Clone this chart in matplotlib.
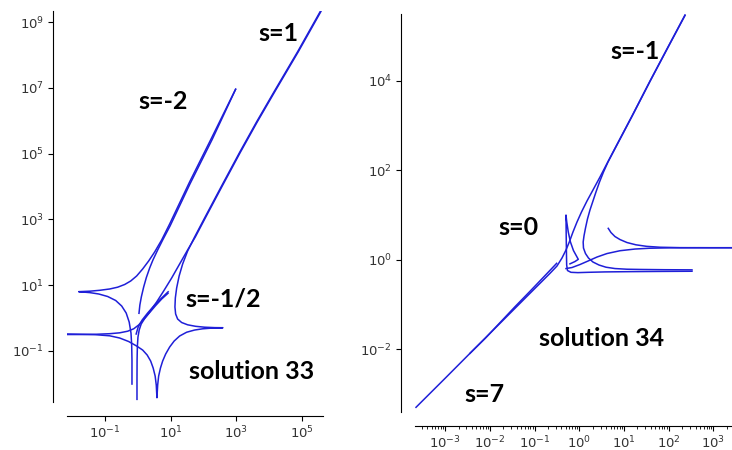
import numpy as np
import matplotlib.pyplot as plt
from matplotlib.ticker import NullLocator, NullFormatter

# all curve points are log10 values
# ---- solution 33 (left panel) ----
s2_cusp_x = [-0.177, -0.177, -0.186, -0.207, -0.262, -0.354, -0.491, -0.674, -0.918, -1.192,
             -1.466, -1.802, -1.466, -1.162, -0.857, -0.613, -0.399, -0.216, -0.034, 0.149,
             0.332, 0.515, 0.729, 0.973, 1.582, 2.253, 2.985]
s2_cusp_y = [-2.014, -1.283, -0.826, -0.461, -0.127, 0.148, 0.361, 0.529, 0.650, 0.727,
             0.769, 0.797, 0.812, 0.839, 0.879, 0.934, 1.016, 1.122, 1.275, 1.488,
             1.731, 2.005, 2.371, 2.858, 4.137, 5.477, 6.960]
s2_inner_x = [0.037, 0.064, 0.110, 0.180, 0.262, 0.363, 0.463, 0.607, 0.768, 0.985, 1.592, 2.263, 2.985]
s2_inner_y = [0.139, 0.392, 0.644, 0.940, 1.229, 1.518, 1.762, 2.066, 2.386, 2.797, 4.076, 5.416, 6.955]

s1_line_x = [5.567, 4.875, 4.174, 3.625, 3.107, 2.558, 2.040, 1.735]
s1_line_y = [9.323, 8.096, 6.908, 5.964, 5.035, 4.015, 3.041, 2.462]
s1_nose_x = [1.521, 1.369, 1.262, 1.186, 1.146, 1.134, 1.155, 1.216, 1.338, 1.521, 1.765,
             2.040, 2.345, 2.598, 2.284, 1.979, 1.735, 1.491, 1.277, 1.110, 0.973, 0.851,
             0.759, 0.692, 0.637, 0.607, 0.585, 0.564, 0.530, 0.470, 0.393, 0.287, 0.149,
             -0.034, -0.277, -0.552, -0.857, -1.314, -1.771, -2.159]
s1_nose_y = [2.036, 1.640, 1.275, 0.909, 0.605, 0.331, 0.118, -0.035, -0.141, -0.211, -0.257,
             -0.284, -0.297, -0.300, -0.309, -0.333, -0.370, -0.437, -0.552, -0.705, -0.887, -1.100,
             -1.314, -1.527, -1.770, -2.044, -2.431, -2.044, -1.770, -1.527, -1.314, -1.131, -0.979,
             -0.857, -0.720, -0.613, -0.546, -0.510, -0.498, -0.491]
s1_main_x = [1.521, 1.277, 1.034, 0.790, 0.576, 0.363, 0.210, 0.104, 0.043, 0.006, -0.012,
             -0.021, -0.024, -0.024]
s1_main_y = [2.066, 1.640, 1.214, 0.818, 0.483, 0.178, -0.019, -0.187, -0.370, -0.583, -0.857,
             -1.283, -1.892, -2.480]

half_a_x = [-2.159, -1.771, -1.314, -0.857, -0.552, -0.308, -0.125, 0.027, 0.180, 0.363, 0.546, 0.729, 0.921]
half_a_y = [-0.507, -0.507, -0.501, -0.482, -0.455, -0.406, -0.333, -0.217, -0.050, 0.163, 0.376, 0.574, 0.748]
half_b_x = [0.927, 0.729, 0.515, 0.302, 0.134, 0.012, -0.049]
half_b_y = [0.794, 0.605, 0.392, 0.148, -0.065, -0.278, -0.491]

# ---- solution 34 (right panel) ----
m1_line_x = [2.364, 1.983, 1.581, 1.178, 0.754]
m1_line_y = [5.465, 4.750, 3.991, 3.209, 2.405]
m1_main_x = [0.608, 0.463, 0.306, 0.172, 0.049, -0.051, -0.141, -0.219, -0.297, -0.387,
             -0.499, -0.655, -0.856, -1.102, -1.773, -2.444, -3.000, -3.651]
m1_main_y = [2.126, 1.847, 1.557, 1.311, 1.065, 0.842, 0.619, 0.406, 0.217, 0.038,
             -0.141, -0.304, -0.505, -0.750, -1.420, -2.090, -2.648, -3.296]
m1_nose_x = [0.642, 0.541, 0.452, 0.373, 0.306, 0.239, 0.183, 0.139, 0.105, 0.087, 0.094,
             0.139, 0.206, 0.306, 0.441, 0.597, 0.798, 1.067, 1.357, 1.916, 2.520]
m1_nose_y = [2.182, 1.958, 1.735, 1.512, 1.311, 1.110, 0.909, 0.708, 0.529, 0.395, 0.261,
             0.138, 0.038, -0.051, -0.118, -0.167, -0.197, -0.212, -0.217, -0.223, -0.226]
spike_x = [2.520, 1.805, 1.134, 0.575, 0.195, -0.029, -0.186, -0.264, -0.282, -0.286, -0.291,
           -0.295, -0.297, -0.280, -0.246, -0.197, -0.130, -0.063, -0.022, -0.096, -0.208]
spike_y = [-0.257, -0.261, -0.266, -0.272, -0.281, -0.288, -0.281, -0.241, -0.118, 0.105, 0.440,
           0.775, 0.998, 0.842, 0.619, 0.395, 0.205, 0.083, 0.009, -0.040, -0.092]
short_x = [-2.444, -2.100, -1.773, -1.438, -1.102, -0.789, -0.505]
short_y = [-2.090, -1.752, -1.405, -1.050, -0.705, -0.378, -0.080]
upper_x = [0.648, 0.709, 0.798, 0.910, 1.067, 1.268, 1.507, 1.805, 2.252, 2.923, 3.593]
upper_y = [0.701, 0.607, 0.518, 0.451, 0.384, 0.333, 0.299, 0.279, 0.270, 0.268, 0.268]
rise_x = [-0.297, -0.163, 0.016, 0.195, 0.396, 0.619, 0.910, 1.246, 1.581, 2.028, 2.699, 3.593]
rise_y = [-0.197, -0.174, -0.107, -0.029, 0.060, 0.138, 0.201, 0.239, 0.257, 0.266, 0.268, 0.268]

left_curves = [(s2_cusp_x, s2_cusp_y), (s2_inner_x, s2_inner_y),
               (s1_line_x + s1_nose_x, s1_line_y + s1_nose_y),
               ([v + 0.02 for v in s1_line_x] + s1_main_x, s1_line_y + s1_main_y),
               (half_a_x, half_a_y), (half_b_x, half_b_y)]
right_curves = [(m1_line_x + m1_main_x, m1_line_y + m1_main_y),
                (m1_line_x + m1_nose_x, [v - 0.01 for v in m1_line_y] + m1_nose_y),
                (spike_x, spike_y), (short_x, short_y), (upper_x, upper_y), (rise_x, rise_y)]

left_labels = [('s=1', 4.30, 8.64), ('s=-2', 0.76, 6.59), ('s=-1/2', 2.60, 0.57),
               ('solution 33', 3.47, -1.62)]
right_labels = [('s=-1', 1.25, 4.66), ('s=0', -1.37, 0.72), ('solution 34', 0.50, -1.75),
                ('s=7', -2.12, -3.00)]

line_color = '#1f1fd8'

fig = plt.figure(figsize=(7.32, 4.5), dpi=100)
ax1 = fig.add_axes([0.0915, 0.1067, 0.3497, 0.8689])
ax2 = fig.add_axes([0.5669, 0.0844, 0.4331, 0.8844])


def style(ax, curves, labels, xlim, ylim, xt, yt, minor_x=None):
    for cx, cy in curves:
        ax.plot(10 ** np.array(cx), 10 ** np.array(cy), color=line_color, lw=1.1)
    ax.set_xscale('log')
    ax.set_yscale('log')
    ax.set_xticks([10.0 ** k for k in xt])
    ax.set_yticks([10.0 ** k for k in yt])
    ax.yaxis.set_minor_locator(NullLocator())
    if minor_x is None:
        ax.xaxis.set_minor_locator(NullLocator())
    else:
        ax.set_xticks(minor_x, minor=True)
        ax.xaxis.set_minor_formatter(NullFormatter())
    ax.set_xlim(10 ** xlim[0], 10 ** xlim[1])
    ax.set_ylim(10 ** ylim[0], 10 ** ylim[1])
    for side in ['top', 'right']:
        ax.spines[side].set_visible(False)
    ax.spines['left'].set_position(('outward', 10))
    ax.spines['bottom'].set_position(('outward', 10))
    ax.tick_params(labelsize=9.5, labelcolor='#333333', pad=3)
    for txt, lx, ly in labels:
        ax.text(10 ** lx, 10 ** ly, txt, ha='center', va='center', fontsize=18,
                fontweight='bold', family=['Lato', 'DejaVu Sans'])


style(ax1, left_curves, left_labels, (-2.16, 5.65), (-2.56, 9.34),
      [-1, 1, 3, 5], [-1, 1, 3, 5, 7, 9])

# minor ticks only on the lower axis of the right panel
minor = [m * 10.0 ** d for d in range(-4, 4) for m in range(2, 10)]
style(ax2, right_curves, right_labels, (-3.674, 3.415), (-3.401, 5.487),
      [-3, -2, -1, 0, 1, 2, 3], [-2, 0, 2, 4], minor_x=minor)

fig.savefig('out.png', dpi=100)
